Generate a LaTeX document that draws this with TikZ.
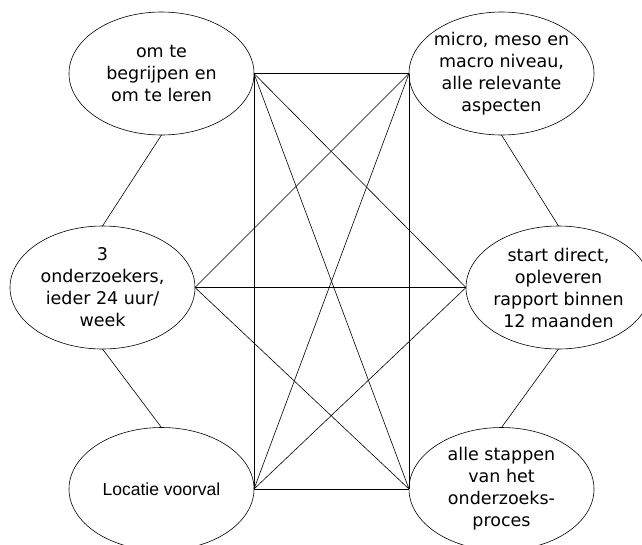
\documentclass[tikz,border=0pt]{standalone}
\usepackage{fontspec}
\setmainfont{DejaVu Sans}
\newfontfamily\arialfont{Liberation Sans}
\usetikzlibrary{shapes.geometric}

\begin{document}
\begin{tikzpicture}[x=1pt, y=-1pt,
    bol/.style = {draw, ellipse, line width=0.6pt, minimum width=185pt, minimum height=123pt,
                  inner sep=-15pt, outer sep=0pt, align=center,
                  font=\fontsize{17.5}{22}\selectfont},
    lijn/.style = {line width=0.6pt}]

    \useasboundingbox (0,0) rectangle (642,544);
    \clip (0,0) rectangle (642,544);

    \node[bol] (doel)    at (161.5,73.5) {om te\\begrijpen en\\om te leren};
    \node[bol] (niveau)  at (501.5,73.5) {micro, meso en\\macro niveau,\\alle relevante\\aspecten};
    \node[bol] (mensen)  at (102.5,287.5) {3\\onderzoekers,\\ieder 24 uur/\\week};
    \node[bol] (tijd)    at (558.5,287.5) {start direct,\\opleveren\\rapport binnen\\12 maanden};
    \node[bol, font=\arialfont\fontsize{17.5}{22}\selectfont] (locatie) at (161.5,489) {Locatie voorval};
    \node[bol] (proces)  at (501.5,489) {alle stappen\\van het\\onderzoeks-\\proces};

    \draw[lijn] (doel.south) -- (mensen.north);
    \draw[lijn] (mensen.south) -- (locatie.north);
    \draw[lijn] (niveau.south) -- (tijd.north);
    \draw[lijn] (tijd.south) -- (proces.north);

    \draw[lijn] (doel.east) -- (niveau.west);
    \draw[lijn] (doel.east) -- (locatie.east);
    \draw[lijn] (doel.east) -- (tijd.west);
    \draw[lijn] (doel.east) -- (proces.west);

    \draw[lijn] (niveau.west) -- (mensen.east);
    \draw[lijn] (niveau.west) -- (locatie.east);
    \draw[lijn] (niveau.west) -- (proces.west);

    \draw[lijn] (mensen.east) -- (tijd.west);
    \draw[lijn] (mensen.east) -- (proces.west);

    \draw[lijn] (locatie.east) -- (tijd.west);
    \draw[lijn] (locatie.east) -- (proces.west);
\end{tikzpicture}
\end{document}
